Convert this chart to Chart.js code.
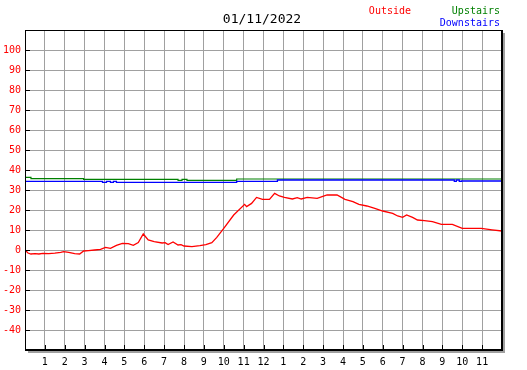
<!DOCTYPE html>
<html>
<head>
<meta charset="utf-8">
<script src="https://cdn.jsdelivr.net/npm/chart.js@4/dist/chart.umd.min.js"></script>
<style>
  body { margin: 0; background: #fff; }
  canvas { display: block; }
</style>
</head>
<body>
<canvas id="chart" width="527" height="370"></canvas>
<script>
// hours of the day (0..24) and temperatures
const outsideTimes = [0, 0.15, 0.3, 0.5, 0.7, 0.9, 1.2, 1.5, 1.8, 1.95, 2.2, 2.5, 2.75, 2.95, 3.2, 3.5, 3.8,
  4.05, 4.3, 4.6, 4.9, 5.2, 5.45, 5.7, 5.95, 6.2, 6.5, 6.9, 7.05, 7.2, 7.45, 7.7, 7.85, 8.0, 8.4, 8.8,
  9.1, 9.4, 9.65, 10.0, 10.5, 11.05, 11.15, 11.4, 11.65, 11.95, 12.3, 12.56, 12.8, 13.05, 13.45, 13.7,
  13.9, 14.2, 14.7, 15.2, 15.7, 16.1, 16.5, 16.8, 17.2, 17.6, 18.0, 18.5, 18.75, 19.0, 19.2, 19.5,
  19.75, 20.1, 20.5, 20.95, 21.5, 22.0, 22.96, 23.5, 24.0];
const outsideTemps = [0, -1.5, -2, -1.8, -2, -1.7, -1.8, -1.6, -1.2, -0.8, -1.2, -1.8, -2, -0.5, -0.3, 0, 0.3,
  1.3, 0.8, 2.3, 3.3, 3.2, 2.3, 3.7, 8, 5, 4.2, 3.5, 3.7, 2.7, 4, 2.5, 2.7, 2, 1.7, 2.2,
  2.7, 3.7, 6.3, 10.8, 17.5, 22.8, 21.7, 23.3, 26.3, 25.3, 25.3, 28.3, 27, 26.3, 25.5, 26.2,
  25.5, 26.3, 25.8, 27.5, 27.5, 25.3, 24.2, 22.8, 22, 20.8, 19.5, 18.3, 17, 16.3, 17.5, 16.3,
  15, 14.7, 14.2, 12.8, 12.8, 10.8, 10.8, 10.1, 9.5];

const upstairsTimes = [0, 0.3, 2.95, 7.7, 7.9, 8.15, 10.65, 24];
const upstairsTemps = [36.3, 35.7, 35.3, 34.8, 35.3, 34.8, 35.5, 35.5];

const downstairsTimes = [0, 3.9, 4.1, 4.3, 4.45, 4.6, 10.65, 12.7, 21.6, 21.7, 21.85, 21.95, 24];
const downstairsTemps = [34.3, 33.8, 34.3, 33.8, 34.3, 33.8, 34.3, 35, 34.3, 35, 34.3, 34.5, 34.5];

const xLabels = ['1','2','3','4','5','6','7','8','9','10','11','12','1','2','3','4','5','6','7','8','9','10','11'];
const yLabels = [-40, -30, -20, -10, 0, 10, 20, 30, 40, 50, 60, 70, 80, 90, 100];

const mono = 'DejaVu Sans Mono';

function pts(times, vals) {
  return times.map(function (t, i) { return { x: t, y: vals[i] }; });
}

// frame, shadow, inward tick marks, title and legend text
const decor = {
  id: 'decor',
  afterDraw: function (chart) {
    const ctx = chart.ctx;
    const a = chart.chartArea;
    const xs = chart.scales.x, ys = chart.scales.y;
    ctx.save();
    ctx.fillStyle = '#a0a0a0';
    ctx.fillRect(a.left + 3, a.bottom + 1, a.right - a.left, 2);
    ctx.fillRect(a.right + 1, a.top + 3, 2, a.bottom - a.top);
    ctx.strokeStyle = '#000';
    ctx.lineWidth = 1;
    ctx.strokeRect(a.left + 0.5, a.top + 0.5, a.right - a.left, a.bottom - a.top);
    ctx.fillStyle = '#000';
    ctx.fillRect(a.left, a.bottom - 1, a.right - a.left + 1, 2);
    ctx.fillRect(a.right - 1, a.top, 2, a.bottom - a.top + 1);
    ctx.beginPath();
    yLabels.forEach(function (v) {
      const y = Math.round(ys.getPixelForValue(v)) + 0.5;
      ctx.moveTo(a.left, y); ctx.lineTo(a.left + 5, y);
    });
    for (let h = 1; h <= 23; h++) {
      const x = Math.round(xs.getPixelForValue(h)) + 0.5;
      ctx.moveTo(x, a.bottom); ctx.lineTo(x, a.bottom - 5);
    }
    ctx.stroke();

    ctx.textBaseline = 'middle';
    ctx.font = '13px "' + mono + '"';
    ctx.textAlign = 'center';
    ctx.fillStyle = '#000';
    ctx.fillText('01/11/2022', 262, 20);
    ctx.font = '10px "' + mono + '"';
    ctx.textAlign = 'right';
    ctx.fillStyle = '#ff0000';
    ctx.fillText('Outside', 411, 11);
    ctx.fillStyle = '#008000';
    ctx.fillText('Upstairs', 500, 11);
    ctx.fillStyle = '#0000ff';
    ctx.fillText('Downstairs', 500, 23);
    ctx.restore();
  }
};

new Chart(document.getElementById('chart'), {
  type: 'line',
  data: {
    datasets: [
      { label: 'Downstairs', data: pts(downstairsTimes, downstairsTemps), borderColor: '#0000ff', borderWidth: 1.3, stepped: true },
      { label: 'Upstairs', data: pts(upstairsTimes, upstairsTemps), borderColor: '#008000', borderWidth: 1.2, stepped: true },
      { label: 'Outside', data: pts(outsideTimes, outsideTemps), borderColor: '#ff0000', borderWidth: 1.3 }
    ]
  },
  options: {
    responsive: false,
    animation: false,
    layout: { padding: { left: 0, top: 30, right: 25, bottom: 0 } },
    elements: { point: { radius: 0 }, line: { tension: 0 } },
    plugins: { legend: { display: false }, tooltip: { enabled: false } },
    scales: {
      x: {
        type: 'linear', min: 0, max: 24,
        afterFit: function (s) { s.height = 20; },
        border: { display: false },
        grid: { color: '#a0a0a0', drawTicks: false },
        ticks: {
          stepSize: 1, autoSkip: false, maxRotation: 0, padding: 6, color: '#000',
          font: { family: mono, size: 10 },
          callback: function (v) { return (v >= 1 && v <= 23) ? xLabels[v - 1] : ''; }
        }
      },
      y: {
        min: -50, max: 110,
        afterFit: function (s) { s.width = 25; },
        border: { display: false },
        grid: { color: '#a0a0a0', drawTicks: false },
        ticks: {
          stepSize: 10, padding: 4, color: '#ff0000',
          font: { family: mono, size: 10 },
          callback: function (v) { return yLabels.indexOf(v) >= 0 ? String(v) : ''; }
        }
      }
    }
  },
  plugins: [decor]
});
</script>
</body>
</html>
